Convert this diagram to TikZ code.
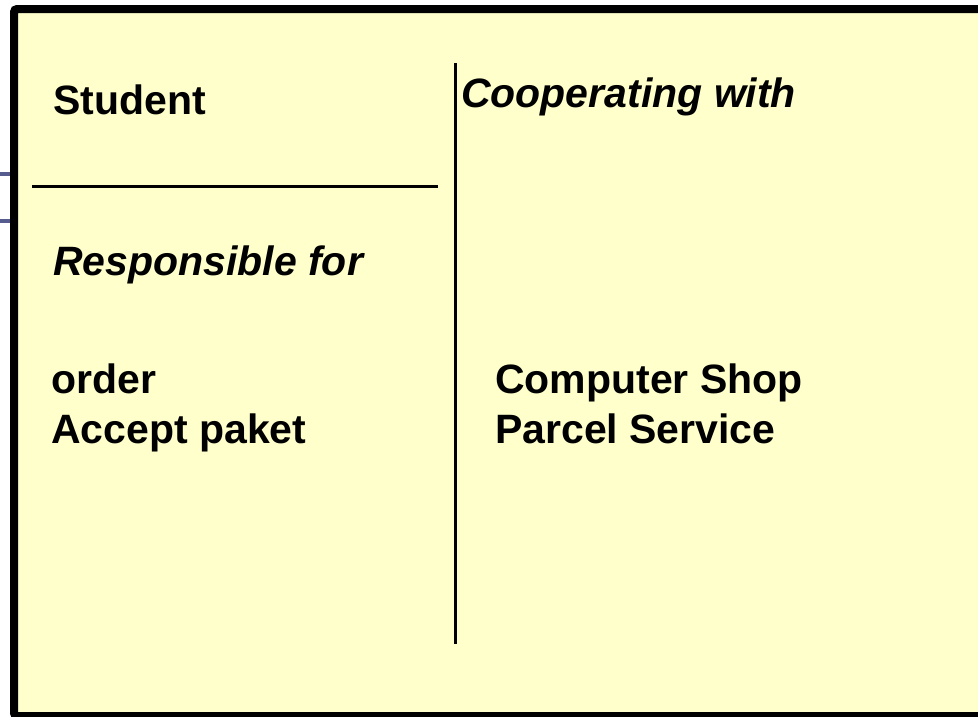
\documentclass[tikz,border=0pt]{standalone}
\usepackage{fontspec}
\setmainfont{Liberation Sans}
\definecolor{cardyellow}{HTML}{FFFFCC}
\definecolor{slideblue}{HTML}{575C8E}
\begin{document}
\begin{tikzpicture}[x=1pt,y=-1pt,
  lbl/.style={anchor=base west,inner sep=0pt,font=\fontsize{41}{50}\selectfont\bfseries},
  ilbl/.style={lbl,font=\fontsize{41}{50}\selectfont\bfseries\itshape},
  rule/.style={draw=black,line width=3pt}]
\useasboundingbox (0,0) rectangle (978,716);
% background slide lines peeking out at the left
\draw[slideblue,line width=3.5pt] (0,174) -- (14,174);
\draw[slideblue,line width=3.5pt] (0,221) -- (14,221);
% the card
\draw[fill=cardyellow,draw=black,line width=8pt,rounded corners=3pt] (14,9) rectangle (995,716);
% dividing lines
\coordinate (hl) at (32,186);
\coordinate (hr) at (438,186);
\coordinate (vt) at (455.5,63);
\coordinate (vb) at (455.5,644);
\draw[rule] (hl) -- (hr);
\draw[rule,line width=2.6pt] (vt) -- (vb);
% texts
\node[lbl] (student) at (53,114) {Student};
\node[ilbl] (coop) at (461,107) {Cooperating with};
\node[ilbl] (resp) at (53,275) {Responsible for};
\node[lbl] (order) at (51,393) {order};
\node[lbl] (accept) at (51,443) {Accept paket};
\node[lbl] (shop) at (495,393) {Computer Shop};
\node[lbl] (parcel) at (495,443) {Parcel Service};
\end{tikzpicture}
\end{document}
